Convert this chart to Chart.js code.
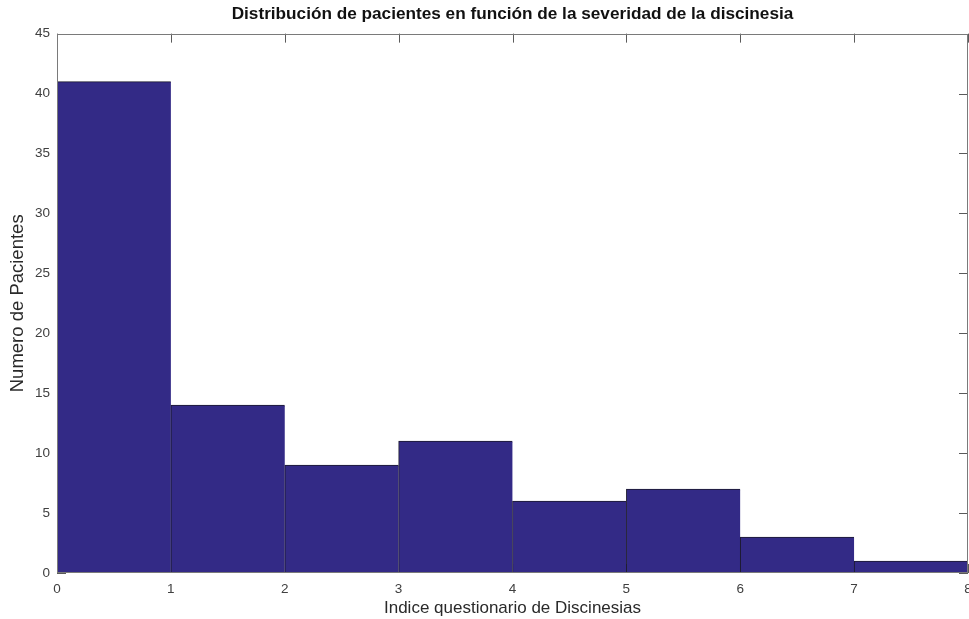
<!DOCTYPE html>
<html lang="es">
<head>
<meta charset="utf-8">
<title>Distribución de pacientes</title>
<script src="https://cdn.jsdelivr.net/npm/chart.js@4/dist/chart.umd.min.js"></script>
<style>
  html, body { margin: 0; padding: 0; background: #ffffff; }
  #wrap { width: 969px; height: 619px; }
</style>
</head>
<body>
<div id="wrap"><canvas id="chart" width="969" height="619"></canvas></div>
<script>
// Histogram bins (edges) and patient counts per bin
const binEdges = [0, 1, 2, 3, 4, 5, 6, 7, 8];
const patientCounts = [41, 14, 9, 11, 6, 7, 3, 1];
const xTicks = [0, 1, 2, 3, 4, 5, 6, 7, 8];
const yTicks = [0, 5, 10, 15, 20, 25, 30, 35, 40, 45];

const chartTitle = 'Distribución de pacientes en función de la severidad de la discinesia';
const xTitle = 'Indice questionario de Discinesias';
const yTitle = 'Numero de Pacientes';

// Each bar sits at the middle of its bin on a linear x axis
const barPoints = patientCounts.map((count, i) => ({
  x: (binEdges[i] + binEdges[i + 1]) / 2,
  y: count
}));

const FONT = '"Liberation Sans", Arial, Helvetica, sans-serif';
const TICK_LEN = 9;

// Inward tick marks on all four sides (drawn under the bars)
const boxTicks = {
  id: 'boxTicks',
  beforeDatasetsDraw(chart) {
    const { ctx, chartArea: a, scales: { x, y } } = chart;
    ctx.save();
    ctx.strokeStyle = '#5a5a5a';
    ctx.lineWidth = 1;
    ctx.beginPath();
    xTicks.forEach(v => {
      const px = Math.round(x.getPixelForValue(v)) + 0.5;
      ctx.moveTo(px, a.top); ctx.lineTo(px, a.top + TICK_LEN);
      ctx.moveTo(px, a.bottom); ctx.lineTo(px, a.bottom - TICK_LEN);
    });
    yTicks.forEach(v => {
      const py = Math.round(y.getPixelForValue(v)) + 0.5;
      ctx.moveTo(a.left, py); ctx.lineTo(a.left + TICK_LEN, py);
      ctx.moveTo(a.right, py); ctx.lineTo(a.right - TICK_LEN, py);
    });
    ctx.stroke();
    ctx.restore();
  },
  // Axis box drawn over the bars
  afterDatasetsDraw(chart) {
    const { ctx, chartArea: a } = chart;
    ctx.save();
    ctx.strokeStyle = '#7a7a7a';
    ctx.lineWidth = 1;
    ctx.strokeRect(Math.round(a.left) + 0.5, Math.round(a.top) + 0.5,
                   Math.round(a.right - a.left) - 1, Math.round(a.bottom - a.top) - 1);
    ctx.restore();
  }
};

new Chart(document.getElementById('chart'), {
  type: 'bar',
  data: {
    datasets: [{
      data: barPoints,
      backgroundColor: '#332a86',
      borderColor: '#1c1a2e',
      borderWidth: { top: 1, left: 1, right: 0, bottom: 0 },
      borderSkipped: false,
      barPercentage: 1,
      categoryPercentage: 1
    }]
  },
  options: {
    responsive: false,
    animation: false,
    layout: { padding: { left: 0, right: 1, top: 0, bottom: 0 } },
    plugins: {
      legend: { display: false },
      tooltip: { enabled: false },
      title: {
        display: true,
        text: chartTitle,
        fullSize: false,
        color: '#111111',
        font: { family: FONT, size: 17.2, weight: 'bold' },
        padding: { top: 4, bottom: 9 }
      }
    },
    scales: {
      x: {
        type: 'linear',
        offset: false,
        min: binEdges[0],
        max: binEdges[binEdges.length - 1],
        afterBuildTicks: s => { s.ticks = xTicks.map(v => ({ value: v })); },
        afterFit: s => { s.height = 46; s.paddingLeft = 0; s.paddingRight = 0; },
        grid: { display: false, drawTicks: false, offset: false },
        border: { display: false },
        ticks: {
          color: '#404040',
          font: { family: FONT, size: 13.5 },
          padding: 8,
          maxRotation: 0,
          autoSkip: false
        },
        title: {
          display: true,
          text: xTitle,
          color: '#2a2a2a',
          font: { family: FONT, size: 17 },
          padding: { top: 0, bottom: 0 }
        }
      },
      y: {
        type: 'linear',
        min: yTicks[0],
        max: yTicks[yTicks.length - 1],
        afterBuildTicks: s => { s.ticks = yTicks.map(v => ({ value: v })); },
        afterFit: s => { s.width = 57; s.paddingTop = 0; s.paddingBottom = 0; },
        grid: { display: false, drawTicks: false },
        border: { display: false },
        ticks: {
          color: '#404040',
          font: { family: FONT, size: 13.5 },
          padding: 7
        },
        title: {
          display: true,
          text: yTitle,
          color: '#2a2a2a',
          font: { family: FONT, size: 18.5 },
          padding: { top: 7, bottom: 0 }
        }
      }
    }
  },
  plugins: [boxTicks]
});
</script>
</body>
</html>
